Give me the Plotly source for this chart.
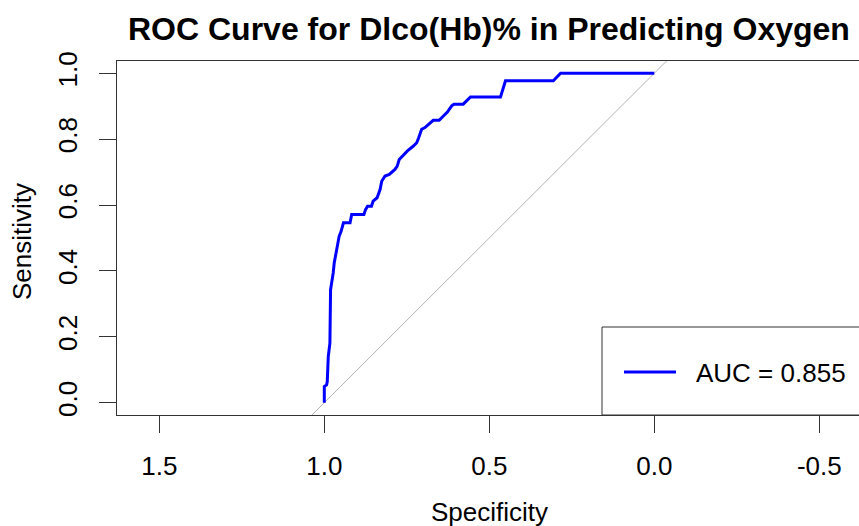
import plotly.graph_objects as go

# ---- data ----
specificity = [1.000, 1.000, 0.993, 0.991, 0.988, 0.985, 0.983, 0.981, 0.978, 0.975,
               0.973, 0.970, 0.966, 0.963, 0.958, 0.955, 0.949, 0.942, 0.922, 0.917,
               0.880, 0.875, 0.869, 0.857, 0.852, 0.840, 0.831, 0.826, 0.816, 0.803,
               0.786, 0.779, 0.773, 0.761, 0.748, 0.730, 0.720, 0.714, 0.705, 0.695,
               0.682, 0.670, 0.652, 0.641, 0.627, 0.614, 0.607, 0.579, 0.557, 0.466,
               0.458, 0.451, 0.306, 0.284, 0.000]
sensitivity = [0.000, 0.049, 0.054, 0.064, 0.140, 0.170, 0.181, 0.343, 0.358, 0.373,
               0.394, 0.424, 0.444, 0.465, 0.485, 0.505, 0.520, 0.546, 0.546, 0.571,
               0.571, 0.586, 0.596, 0.596, 0.612, 0.622, 0.647, 0.672, 0.688, 0.693,
               0.708, 0.718, 0.738, 0.751, 0.764, 0.779, 0.789, 0.804, 0.830, 0.835,
               0.848, 0.857, 0.857, 0.867, 0.882, 0.901, 0.906, 0.906, 0.928, 0.928,
               0.951, 0.977, 0.977, 1.000, 1.000]
identity_x = [1.2, -0.2]
identity_y = [-0.2, 1.2]
auc_label = "AUC = 0.855"

x_tickvals = [1.5, 1.0, 0.5, 0.0, -0.5]
x_ticktext = ["1.5", "1.0", "0.5", "0.0", "-0.5"]
y_tickvals = [0.0, 0.2, 0.4, 0.6, 0.8, 1.0]
y_ticktext = ["0.0", "0.2", "0.4", "0.6", "0.8", "1.0"]

title_text = "ROC Curve for Dlco(Hb)% in Predicting Oxygen"
x_title = "Specificity"
y_title = "Sensitivity"

# ---- layout geometry (screen pixels) ----
W, H = 859, 526
PL, PR, PT, PB = 117, 859, 61, 415   # plot frame
PW, PH = PR - PL, PB - PT
FONT = "Liberation Sans, Arial, Helvetica, sans-serif"
FRAME = "#333333"
FS = 26


def px(xp):
    return (xp - PL) / PW


def py(yp):
    return (PB - yp) / PH


fig = go.Figure()
fig.add_trace(go.Scatter(x=identity_x, y=identity_y, mode="lines",
                         line=dict(color="#b4b4b4", width=1), showlegend=False,
                         hoverinfo="skip"))
fig.add_trace(go.Scatter(x=specificity, y=sensitivity, mode="lines",
                         line=dict(color="#0000ff", width=3), name=auc_label,
                         showlegend=False))

# legend box (drawn like R's legend)
fig.add_shape(type="rect", xref="paper", yref="paper",
              x0=px(602), x1=1.05, y0=0, y1=py(327),
              line=dict(color=FRAME, width=1), fillcolor="white", layer="below")
fig.add_shape(type="line", xref="paper", yref="paper",
              x0=px(624), x1=px(676), y0=py(372), y1=py(372),
              line=dict(color="#0000ff", width=3))

annotations = [
    dict(text=auc_label, xref="paper", yref="paper", x=px(694), y=py(373),
         xanchor="left", yanchor="middle", showarrow=False,
         font=dict(family=FONT, size=FS, color="black")),
    dict(text="<b>" + title_text + "</b>", xref="paper", yref="paper",
         x=px(489), y=py(29), xanchor="center", yanchor="middle", showarrow=False,
         font=dict(family=FONT, size=32, color="black")),
    dict(text=x_title, xref="paper", yref="paper", x=px(489), y=py(512),
         xanchor="center", yanchor="middle", showarrow=False,
         font=dict(family=FONT, size=FS, color="black")),
    dict(text=y_title, xref="paper", yref="paper", x=px(22), y=py(241),
         xanchor="center", yanchor="middle", showarrow=False, textangle=-90,
         font=dict(family=FONT, size=FS, color="black")),
]

x_lo = 1.0 + (324.3 - PL) / 330.0
x_hi = 1.0 - (PR - 324.3) / 330.0
y_lo = -(PB - 402.7) / 329.5
y_hi = (402.7 - PT) / 329.5

fig.update_layout(
    width=W, height=H,
    margin=dict(l=PL, r=W - PR, t=PT, b=H - PB, pad=0),
    paper_bgcolor="white", plot_bgcolor="white",
    font=dict(family=FONT, size=FS, color="black"),
    annotations=annotations,
    xaxis=dict(range=[x_lo, x_hi], tickmode="array", tickvals=x_tickvals,
               ticktext=x_ticktext, ticks="outside", ticklen=17, tickwidth=1,
               tickcolor=FRAME, showline=True, linecolor=FRAME, linewidth=1,
               mirror=True, showgrid=False, zeroline=False,
               ticklabelstandoff=11,
               tickfont=dict(family=FONT, size=FS, color="black")),
    yaxis=dict(range=[y_lo, y_hi], tickmode="array", tickvals=y_tickvals,
               ticktext=y_ticktext, ticks="outside", ticklen=17, tickwidth=1,
               tickcolor=FRAME, showline=True, linecolor=FRAME, linewidth=1,
               mirror=True, showgrid=False, zeroline=False, tickangle=-90,
               ticklabelstandoff=12,
               tickfont=dict(family=FONT, size=FS, color="black")),
)

fig.write_html(
    "out.html",
    config={"displayModeBar": False},
    post_script="document.body.style.margin='0';document.body.style.overflow='hidden';",
)
